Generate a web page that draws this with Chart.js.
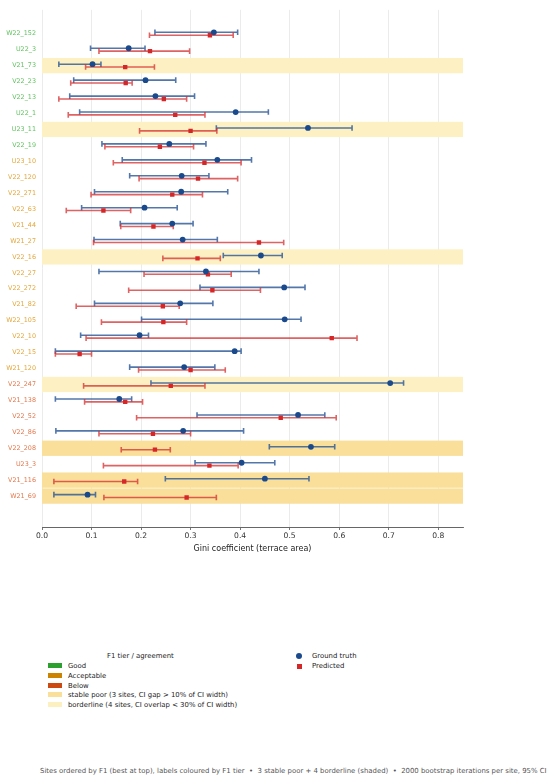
<!DOCTYPE html>
<html>
<head>
<meta charset="utf-8">
<script src="https://cdn.jsdelivr.net/npm/chart.js@4.4.1/dist/chart.umd.min.js"></script>
<style>
  html, body { margin:0; padding:0; background:#fff; width:550px; height:784px; overflow:hidden; font-family:"DejaVu Sans", sans-serif; }
  #wrap { position:absolute; left:0; top:0; width:550px; height:560px; }
  .lg { position:absolute; font-size:6.9px; color:#222; white-space:nowrap; line-height:8px; }
  .patch { position:absolute; width:14px; height:5px; }
  #footer { position:absolute; left:40px; top:767px; font-size:6.93px; color:#555; white-space:nowrap; }
</style>
</head>
<body>
<div id="wrap"><canvas id="c" width="550" height="560"></canvas></div>

<div class="lg" style="left:107px;top:652px;">F1 tier / agreement</div>
<div class="patch" style="left:48px;top:663px;background:#2ca02c;"></div>
<div class="lg" style="left:68px;top:662px;">Good</div>
<div class="patch" style="left:48px;top:673px;background:#cc8400;"></div>
<div class="lg" style="left:68px;top:672px;">Acceptable</div>
<div class="patch" style="left:48px;top:683px;background:#cc4a10;"></div>
<div class="lg" style="left:68px;top:682px;">Below</div>
<div class="patch" style="left:48px;top:692px;background:#f9df9a;"></div>
<div class="lg" style="left:68px;top:691px;">stable poor (3 sites, CI gap &gt; 10% of CI width)</div>
<div class="patch" style="left:48px;top:702px;background:#fdf0c0;"></div>
<div class="lg" style="left:68px;top:701px;">borderline (4 sites, CI overlap &lt; 30% of CI width)</div>
<div style="position:absolute;left:296px;top:653px;width:6px;height:6px;border-radius:50%;background:#1a4a8c;"></div>
<div class="lg" style="left:312px;top:652px;">Ground truth</div>
<div style="position:absolute;left:297px;top:664px;width:5px;height:5px;background:#d62728;"></div>
<div class="lg" style="left:312px;top:662px;">Predicted</div>

<div id="footer">Sites ordered by F1 (best at top), labels coloured by F1 tier &nbsp;•&nbsp; 3 stable poor + 4 borderline (shaded) &nbsp;•&nbsp; 2000 bootstrap iterations per site, 95% CI</div>

<script>
// ---- data ----
const sites = ["W22_152","U22_3","V21_73","V22_23","V22_13","U22_1","U23_11","V22_19",
  "U23_10","V22_120","V22_271","V22_63","V21_44","W21_27","V22_16","V22_27","V22_272","V21_82","W22_105","V22_10","V22_15","W21_120",
  "V22_247","V21_138","V22_52","V22_86","V22_208","U23_3","V21_116","W21_69"];
const tiers = ["good","good","good","good","good","good","good","good",
  "acc","acc","acc","acc","acc","acc","acc","acc","acc","acc","acc","acc","acc","acc",
  "below","below","below","below","below","below","below","below"];
// shading: "" none, "border" borderline, "stable" stable poor
const shading = ["","","border","","","","border","",
  "","","","","","","border","","","","","","","",
  "border","","","","stable","","stable","stable"];
const gtVal = [0.347,0.175,0.102,0.209,0.229,0.391,0.537,0.257,
  0.354,0.282,0.281,0.207,0.263,0.284,0.442,0.331,0.489,0.279,0.490,0.197,0.389,0.287,
  0.703,0.156,0.517,0.285,0.543,0.403,0.450,0.092];
const gtLo = [0.228,0.098,0.034,0.064,0.056,0.076,0.352,0.121,
  0.162,0.177,0.106,0.080,0.158,0.105,0.366,0.115,0.319,0.106,0.201,0.078,0.027,0.177,
  0.220,0.027,0.313,0.028,0.459,0.309,0.249,0.024];
const gtHi = [0.395,0.208,0.119,0.270,0.308,0.457,0.626,0.331,
  0.423,0.337,0.375,0.273,0.305,0.354,0.485,0.438,0.531,0.345,0.523,0.215,0.402,0.349,
  0.730,0.181,0.571,0.407,0.591,0.470,0.539,0.108];
const prVal = [0.339,0.218,0.168,0.169,0.246,0.269,0.300,0.238,
  0.328,0.315,0.263,0.124,0.225,0.438,0.314,0.335,0.344,0.244,0.245,0.585,0.076,0.300,
  0.260,0.168,0.482,0.224,0.228,0.338,0.166,0.292];
const prLo = [0.217,0.115,0.088,0.058,0.034,0.053,0.197,0.127,
  0.144,0.196,0.099,0.049,0.159,0.104,0.244,0.206,0.175,0.069,0.120,0.089,0.027,0.195,
  0.084,0.086,0.191,0.115,0.160,0.124,0.024,0.125];
const prHi = [0.386,0.298,0.227,0.182,0.292,0.329,0.353,0.306,
  0.402,0.395,0.324,0.179,0.265,0.488,0.360,0.382,0.441,0.277,0.292,0.636,0.100,0.370,
  0.329,0.203,0.594,0.300,0.259,0.396,0.193,0.352];
const xTicks = [0.0,0.1,0.2,0.3,0.4,0.5,0.6,0.7,0.8];

// ---- styles ----
const tierColor = { good:"#62c262", acc:"#e2a73c", below:"#e2784c" };
const shadeColor = { border:"#fdf1c3", stable:"#f9df9a" };
const GT_OFF = -0.09, PR_OFF = 0.09;

const bandsPlugin = {
  id:"bands",
  beforeDatasetsDraw(chart){
    const {ctx, chartArea:a, scales:{y}} = chart;
    ctx.save();
    shading.forEach((s,i)=>{
      if(!s) return;
      const t = y.getPixelForValue(i-0.48), b = y.getPixelForValue(i+0.48);
      ctx.fillStyle = shadeColor[s];
      ctx.fillRect(a.left, Math.min(t,b), a.right-a.left, Math.abs(b-t));
    });
    ctx.restore();
  }
};
const ciPlugin = {
  id:"ci",
  beforeDatasetsDraw(chart){
    const {ctx, scales:{x,y}} = chart;
    ctx.save();
    const draw = (lo,hi,yy,col)=>{
      const x1=x.getPixelForValue(lo), x2=x.getPixelForValue(hi), py=y.getPixelForValue(yy);
      ctx.strokeStyle=col; ctx.lineWidth=1.6;
      ctx.beginPath(); ctx.moveTo(x1,py); ctx.lineTo(x2,py);
      ctx.moveTo(x1,py-2.8); ctx.lineTo(x1,py+2.8);
      ctx.moveTo(x2,py-2.8); ctx.lineTo(x2,py+2.8);
      ctx.stroke();
    };
    sites.forEach((s,i)=>{
      draw(gtLo[i],gtHi[i],i+GT_OFF,"rgba(40,85,150,0.8)");
      draw(prLo[i],prHi[i],i+PR_OFF,"rgba(214,45,45,0.75)");
    });
    ctx.restore();
  }
};

new Chart(document.getElementById("c"), {
  type:"scatter",
  data:{
    datasets:[
      { label:"Ground truth", data: gtVal.map((v,i)=>({x:v,y:i+GT_OFF})),
        pointStyle:"circle", pointRadius:2.9, backgroundColor:"#1a4a8c", borderWidth:0 },
      { label:"Predicted", data: prVal.map((v,i)=>({x:v,y:i+PR_OFF})),
        pointStyle:"rect", pointRadius:3.1, backgroundColor:"#d62728", borderWidth:0 }
    ]
  },
  options:{
    responsive:false, animation:false, devicePixelRatio:1,
    layout:{ padding:{ left:0, right:87, top:8, bottom:6 } },
    plugins:{ legend:{display:false}, tooltip:{enabled:false} },
    scales:{
      x:{
        type:"linear", min:0, max:0.85,
        afterBuildTicks(sc){ sc.ticks = xTicks.map(v=>({value:v})); },
        afterFit(sc){ sc.height = 27; },
        ticks:{ callback:v=>v.toFixed(1), font:{family:"DejaVu Sans", size:7.6}, color:"#333", padding:1, maxRotation:0 },
        grid:{ color:"#e6e6e6", lineWidth:0.8, drawTicks:true, tickLength:3, tickColor:"#555" },
        border:{ display:true, color:"#666", width:1 },
        title:{ display:true, text:"Gini coefficient (terrace area)", font:{family:"DejaVu Sans", size:8}, color:"#222", padding:{top:1,bottom:0} }
      },
      y:{
        type:"linear", reverse:true, min:-1.5, max:30.94,
        afterBuildTicks(sc){ sc.ticks = sites.map((s,i)=>({value:i})); },
        afterFit(sc){ sc.width = 42; },
        ticks:{ autoSkip:false, callback:(v)=>sites[v], font:{family:"DejaVu Sans", size:6.4}, padding:6,
          color:(c)=>tierColor[tiers[c.index]] },
        grid:{ display:false, drawTicks:false },
        border:{ display:false }
      }
    }
  },
  plugins:[bandsPlugin, ciPlugin]
});
</script>
</body>
</html>
